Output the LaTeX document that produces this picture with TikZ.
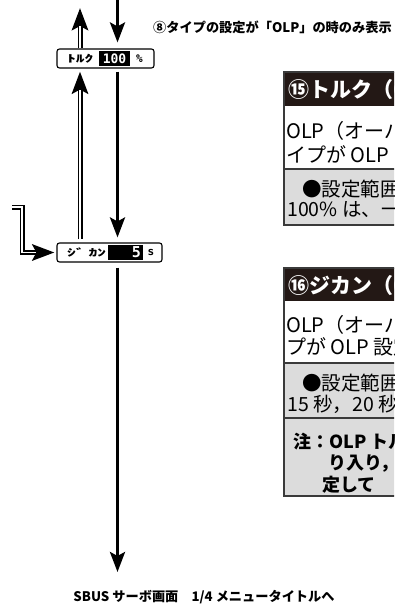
\documentclass[tikz,border=0pt]{standalone}
\usepackage{fontspec}
\setmainfont{Noto Sans CJK JP}
\newfontfamily\lcdfont{DejaVu Sans Mono}
\usetikzlibrary{arrows.meta}
\definecolor{panelgray}{HTML}{DCDCDC}
\definecolor{panelblack}{HTML}{231815}
\definecolor{edgegray}{HTML}{3A3A3A}
\tikzset{
  lcd/.style={draw=black, line width=1.1pt, rounded corners=2.5pt, minimum width=#1, minimum height=19pt, inner sep=0pt},
  lcdval/.style={fill=black, text=white, inner sep=0pt, minimum height=15pt, font=\lcdfont\bfseries\fontsize{13}{13}\selectfont},
  lcdlabel/.style={font=\bfseries\fontsize{10}{10}\selectfont, inner sep=0pt, anchor=west},
  lcdunit/.style={font=\lcdfont\bfseries\fontsize{11}{11}\selectfont, inner sep=0pt, anchor=west},
  thickarrow/.style={line width=3.2pt, -{Stealth[length=20pt,width=15pt,inset=4pt]}},
  dblout/.style={line width=5pt, -{Stealth[length=22pt,width=16pt,inset=4pt]}},
  dblin/.style={line width=1.8pt, white, shorten >=18.5pt},
  note/.style={font=\bfseries\fontsize{13.2}{14}\selectfont, inner sep=0pt},
  hdr/.style={font=\bfseries\fontsize{21}{21}\selectfont, text=white, inner sep=0pt, anchor=west},
  body/.style={font=\fontsize{20}{20}\selectfont, inner sep=0pt, anchor=west},
  gtext/.style={font=\fontsize{19.5}{19.5}\selectfont, inner sep=0pt, anchor=west},
  ntext/.style={font=\bfseries\fontsize{18}{18}\selectfont, inner sep=0pt, anchor=west},
}
\newcommand\dblarrow[1]{\draw[dblout] #1; \draw[dblin] #1;}
\newcommand\lcdstretch[1]{\scalebox{1.75}[1]{#1}}
\begin{document}
\begin{tikzpicture}[x=1pt,y=-1pt]
\useasboundingbox (0,0) rectangle (394,607);
\clip (0,0) rectangle (394,607);

% ---------- right panels ----------
\fill[panelblack] (284,72) rectangle (420,106);
\fill[white] (284,106) rectangle (420,169);
\fill[panelgray] (284,169) rectangle (420,225);
\draw[edgegray, line width=1.2pt] (284,72) rectangle (420,225);
\draw[edgegray, line width=1.2pt] (284,169) -- (420,169);

\node[hdr] (h15) at (288,90) {⑮トルク（OLP）};
\node[body] (t15a) at (286,131) {OLP（オーバーロード};
\node[body] (t15b) at (286,154) {イプが OLP};
\node[gtext] (g15a) at (302,189) {●設定範囲：};
\node[gtext] (g15b) at (287,210) {100\% は、一};

\fill[panelblack] (284,268) rectangle (420,301);
\fill[white] (284,301) rectangle (420,363);
\fill[panelgray] (284,363) rectangle (420,496);
\draw[edgegray, line width=1.2pt] (284,268) rectangle (420,496);
\draw[edgegray, line width=1.2pt] (284,363) -- (420,363);
\draw[edgegray, line width=1.2pt] (284,418) -- (420,418);

\node[hdr] (h16) at (288,286) {⑯ジカン（OLP）};
\node[body] (t16a) at (286,325) {OLP（オーバーロード};
\node[body] (t16b) at (286,347) {プが OLP 設定};
\node[gtext] (g16a) at (302,383) {●設定範囲：};
\node[gtext] (g16b) at (287,404) {15 秒，20 秒};
\node[ntext] (n16a) at (293,442) {注：OLP トル};
\node[ntext] (n16b) at (328,464) {り入り，};
\node[ntext] (n16c) at (322,485) {定して};

% ---------- captions ----------
\node[note, anchor=west] (cap) at (153,27) {⑧タイプの設定が「OLP」の時のみ表示};
\node[note] (bottom) at (204,597) {SBUS サーボ画面　1/4 メニュータイトルへ};

% ---------- LCD boxes ----------
\node[lcd=97pt] (b1) at (105.5,58.5) {};
\node[lcdlabel] (l1) at (67,58.5) {\lcdstretch{ﾄﾙｸ}};
\node[lcdval, minimum width=31pt] (v1) at (114.5,58.5) {100};
\node[lcdunit] (u1) at (136,58.5) {\%};

\node[lcd=105pt] (b2) at (109.5,252.5) {};
\node[lcdlabel] (l2) at (67,252.5) {\lcdstretch{ｼﾞ ｶﾝ}};
\node[lcdval, minimum width=35pt] (v2) at (125.5,252.5) {};
\node[lcdval, anchor=east] (v2t) at (141,252.5) {\fontsize{15}{15}\selectfont 5};
\node[lcdunit] (u2) at (147.5,252.5) {s};

% ---------- coordinates ----------
\coordinate (topdown) at (117.5,0);
\coordinate (topup) at (80,8);
\coordinate (inl) at (12,207);
\coordinate (inc) at (22,207);
\coordinate (endb) at (117.5,572);

% ---------- arrows ----------
\draw[thickarrow, shorten >=6pt] (topdown) -- (topdown |- b1.north);
\dblarrow{(topup |- b1.north) -- (topup)}
\dblarrow{([shift={(0,-3)}]topup |- b2.north) -- ([shift={(0,3)}]topup |- b1.south)}
\draw[thickarrow, shorten <=3pt, shorten >=5pt] (topdown |- b1.south) -- (topdown |- b2.north);
\dblarrow{(inl) -- (inc) |- ([shift={(-2,0)}]b2.west)}
\draw[thickarrow, shorten <=5pt] (topdown |- b2.south) -- (endb);
\end{tikzpicture}
\end{document}
